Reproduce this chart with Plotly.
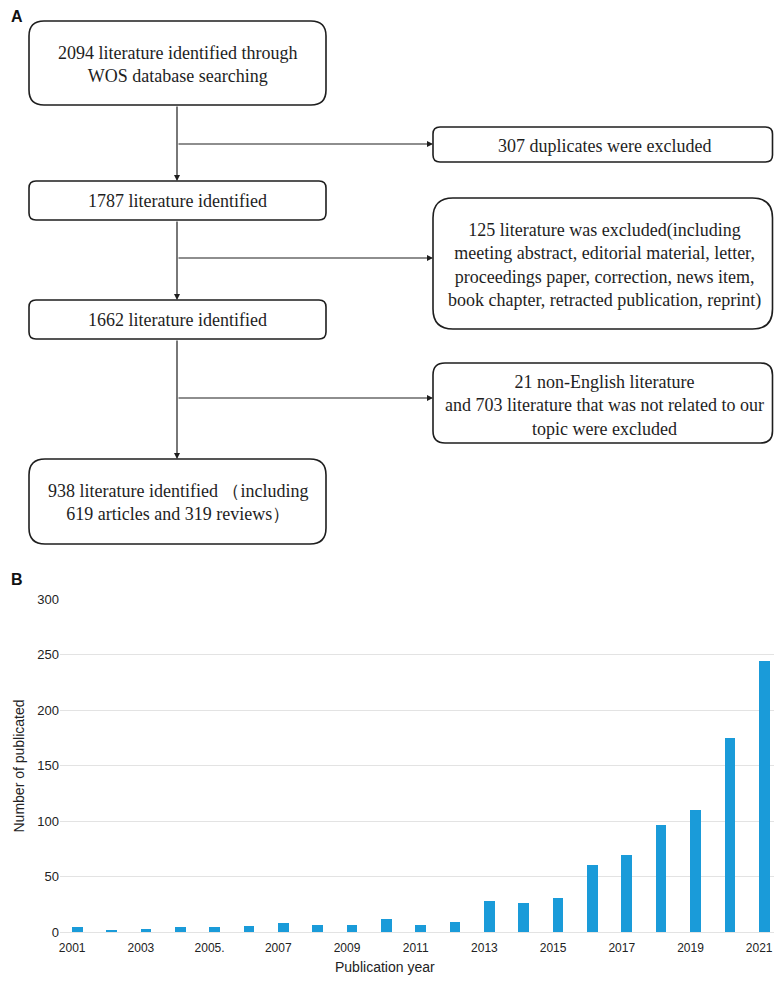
import plotly.graph_objects as go

# ---------------- data ----------------
years = list(range(2001, 2022))
counts = [5, 2, 3, 5, 5, 6, 8, 7, 7, 12, 7, 9, 28, 26, 31, 61, 70, 97, 110, 175, 244]
tick_years = [2001, 2003, 2005, 2007, 2009, 2011, 2013, 2015, 2017, 2019, 2021]
tick_labels = ["2001", "2003", "2005.", "2007", "2009", "2011", "2013", "2015", "2017", "2019", "2021"]
y_ticks = [0, 50, 100, 150, 200, 250, 300]

flow_main = [
    "2094 literature identified through<br>WOS database searching",
    "1787 literature identified",
    "1662 literature identified",
    "938 literature identified \uff08including<br>619 articles and 319 reviews\uff09",
]
flow_side = [
    "307 duplicates were excluded",
    "125 literature was excluded(including<br>meeting abstract, editorial material, letter,<br>"
    "proceedings paper, correction, news item,<br>book chapter, retracted publication, reprint)",
    "21 non-English literature<br>and 703 literature that was not related to our<br>topic were excluded",
]

OFF = 8            # page margin of the browser body
W, H = 766, 970    # page then fits the 782x986 window exactly
SERIF = "Liberation Serif, Times New Roman, serif"
SANS = "Liberation Sans, Arial, sans-serif"
INK = "#1e1e1e"


def fx(x):
    return (x - OFF) / W


def fy(y):
    return 1 - (y - OFF) / H


fig = go.Figure()
fig.add_trace(go.Bar(x=years, y=counts, marker=dict(color="#1A9BD9", line=dict(width=0)),
                     width=0.31, showlegend=False, hoverinfo="x+y"))


def rrect(x0, y0, x1, y1, r):
    def P(x, y):
        return f"{fx(x):.5f},{fy(y):.5f}"
    return (f"M {P(x0+r, y0)} L {P(x1-r, y0)} Q {P(x1, y0)} {P(x1, y0+r)} "
            f"L {P(x1, y1-r)} Q {P(x1, y1)} {P(x1-r, y1)} L {P(x0+r, y1)} "
            f"Q {P(x0, y1)} {P(x0, y1-r)} L {P(x0, y0+r)} Q {P(x0, y0)} {P(x0+r, y0)} Z")


shapes = []
annotations = []

RX = 772.5  # right edge of side boxes (limited by the page width)
main_boxes = [(29, 21, 326, 105, 15), (29, 181, 326, 220, 7), (29, 300, 326, 339, 7), (29, 459, 326, 544, 16)]
side_boxes = [(433, 127, RX, 162, 7), (433, 198, RX, 329, 20), (433, 363, RX, 443, 12)]
branch_y = [144, 258, 398]
cx = 177

for (x0, y0, x1, y1, r), txt in zip(main_boxes, flow_main):
    shapes.append(dict(type="path", path=rrect(x0, y0, x1, y1, r), xref="paper", yref="paper",
                       line=dict(color=INK, width=1.6), fillcolor="white"))
    annotations.append(dict(x=fx((x0 + x1) / 2), y=fy((y0 + y1) / 2 + 1), xref="paper", yref="paper",
                            text=txt, showarrow=False, font=dict(family=SERIF, size=18, color=INK),
                            align="center", xanchor="center", yanchor="middle"))

for (x0, y0, x1, y1, r), txt in zip(side_boxes, flow_side):
    shapes.append(dict(type="path", path=rrect(x0, y0, x1, y1, r), xref="paper", yref="paper",
                       line=dict(color=INK, width=1.6), fillcolor="white"))
    annotations.append(dict(x=fx((x0 + x1) / 2 + 2), y=fy((y0 + y1) / 2 + 2), xref="paper", yref="paper",
                            text=txt, showarrow=False, font=dict(family=SERIF, size=18, color=INK),
                            align="center", xanchor="center", yanchor="middle"))

for i in range(3):
    top = main_boxes[i][3]
    bot = main_boxes[i + 1][1]
    annotations.append(dict(x=fx(cx), y=fy(bot), ax=0, ay=-(bot - top), xref="paper", yref="paper",
                            text="", showarrow=True, arrowhead=2, arrowsize=1, arrowwidth=1.2,
                            arrowcolor=INK, standoff=0, startstandoff=0))
    by = branch_y[i]
    annotations.append(dict(x=fx(433), y=fy(by), ax=-(433 - cx), ay=0, xref="paper", yref="paper",
                            text="", showarrow=True, arrowhead=2, arrowsize=1, arrowwidth=1.2,
                            arrowcolor=INK, standoff=0, startstandoff=0))

annotations.append(dict(x=fx(8.5), y=fy(17), xref="paper", yref="paper", text="<b>A</b>", showarrow=False,
                        font=dict(family=SANS, size=16, color="#111"), xanchor="left", yanchor="middle"))
annotations.append(dict(x=fx(8.5), y=fy(579), xref="paper", yref="paper", text="<b>B</b>", showarrow=False,
                        font=dict(family=SANS, size=16, color="#111"), xanchor="left", yanchor="middle"))

annotations.append(dict(x=fx(8.5), y=fy(766), xref="paper", yref="paper", text="Number of publicated",
                        showarrow=False, textangle=-90, font=dict(family=SANS, size=14, color="#222"),
                        xanchor="left", yanchor="middle"))
annotations.append(dict(x=fx(385), y=fy(967), xref="paper", yref="paper", text="Publication year",
                        showarrow=False, font=dict(family=SANS, size=14, color="#222"),
                        xanchor="center", yanchor="middle"))

PX_PER_YEAR = 34.35
x_dom0, x_dom1 = fx(60), 1.0
x_span = (x_dom1 - x_dom0) * W / PX_PER_YEAR

fig.update_layout(
    width=W, height=H,
    margin=dict(l=0, r=0, t=0, b=0, pad=0, autoexpand=False),
    paper_bgcolor="white", plot_bgcolor="white",
    showlegend=False,
    xaxis=dict(domain=[x_dom0, x_dom1], range=[2000.5, 2000.5 + x_span], automargin=False,
               tickvals=tick_years, ticktext=tick_labels, showgrid=False, zeroline=False,
               showline=False, ticks="", ticklabelstandoff=7, ticklabeloverflow="allow",
               ticklabelshift=-5,
               tickfont=dict(family=SANS, size=12, color="#222")),
    yaxis=dict(domain=[fy(932.3), fy(599.0)], range=[0, 300], automargin=False,
               tickvals=y_ticks, showgrid=True, gridcolor="#e3e3e3", gridwidth=1.3,
               zeroline=True, zerolinecolor="#e3e3e3", zerolinewidth=1.3, showline=False,
               ticks="", tickfont=dict(family=SANS, size=13, color="#222")),
    shapes=shapes,
    annotations=annotations,
    bargap=0,
)

fig.write_html("out.html")
